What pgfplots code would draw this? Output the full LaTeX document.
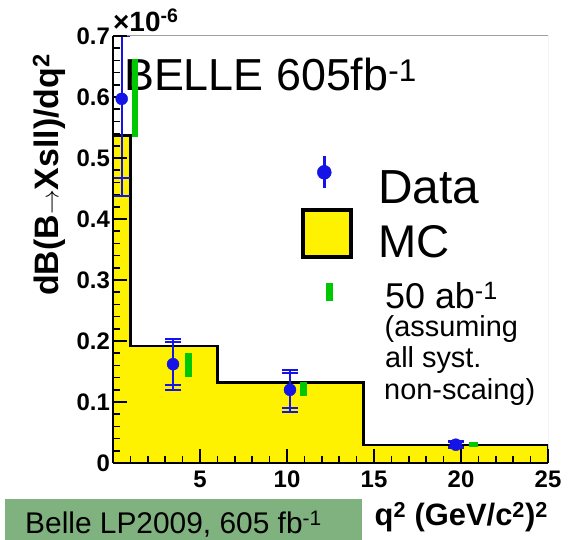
\documentclass[border=0pt]{standalone}
\usepackage{fontspec}
\setmainfont{Liberation Sans}
\usepackage{pgfplots}
\pgfplotsset{compat=1.18}
\definecolor{dblue}{RGB}{20,20,230}
\definecolor{dgreen}{RGB}{0,200,0}
\definecolor{boxgreen}{RGB}{128,178,128}
\definecolor{framegray}{RGB}{160,160,160}
\begin{document}
\begin{tikzpicture}[x=1bp,y=1bp]
\useasboundingbox (0,0) rectangle (571,540);
\begin{axis}[
  scale only axis, width=435bp, height=427bp,
  at={(113bp,77bp)}, anchor=south west,
  xmin=0, xmax=25, ymin=0, ymax=0.7,
  axis x line*=bottom, axis y line*=left,
  axis line style={-, line width=2.5bp, black},
  xtick={0,5,10,15,20,25}, xticklabels={,5,10,15,20,25},
  ytick={0,0.1,0.2,0.3,0.4,0.5,0.6,0.7},
  minor x tick num=4, minor y tick num=4,
  tick align=inside,
  major tick length=14bp, minor tick length=7bp,
  every tick/.style={line width=1.5bp, black},
  /pgf/number format/assume math mode=true,
  yticklabel style={/pgf/number format/fixed, /pgf/number format/precision=1,
     font=\bfseries\fontsize{24}{24}\selectfont, inner sep=0pt, xshift=-3bp},
  xticklabel style={font=\bfseries\fontsize{24}{24}\selectfont, inner sep=0pt, yshift=-8bp},
  axis on top,
  legend style={at={(axis description cs:0.42989,0.75222)}, anchor=north west,
     draw=none, fill=none, inner sep=0pt, outer sep=0pt, row sep=0pt, column sep=0pt,
     nodes={inner sep=0pt, outer sep=0pt}},
]
\node[anchor=base west, inner sep=0pt] at (axis cs:0.63,0.6102) {\fontsize{45}{45}\selectfont BELLE 605fb\textsuperscript{-1}};
% MC histogram
\addplot[forget plot, const plot mark left, fill=yellow, draw=black, line width=2.2bp]
  coordinates {(0,0.537) (1,0.192) (6,0.132) (14.4,0.030) (25,0.030) (25,0.030)} \closedcycle;
% 50 ab^-1 projection
\addplot[forget plot, draw=none, mark=none,
  error bars/.cd, y dir=both, y explicit, error mark=none,
  error bar style={line width=6.5bp, draw=dgreen}]
  coordinates {(1.26,0.599) +- (0,0.064) (4.33,0.1605) +- (0,0.0195) (10.94,0.1215) +- (0,0.0115)};
\addplot[forget plot, draw=none, mark=none,
  error bars/.cd, y dir=both, y explicit, error mark=none,
  error bar style={line width=9bp, draw=dgreen}]
  coordinates {(20.73,0.031) +- (0,0.004)};
% Data total errors
\addplot[forget plot, draw=none, mark=none,
  error bars/.cd, y dir=both, y explicit, error mark=-,
  error bar style={line width=2bp, draw=dblue},
  error mark options={rotate=90, draw=dblue, mark size=8bp, line width=2bp}]
  coordinates {(0.5,0.597) += (0,0.103) -= (0,0.160)
               (3.45,0.162) += (0,0.041) -= (0,0.042)
               (10.17,0.120) += (0,0.032) -= (0,0.036)
               (19.7,0.030) += (0,0.006) -= (0,0.006)};
% Data stat errors with points
\addplot[forget plot, only marks, mark=*, mark size=6bp, mark options={fill=dblue, draw=dblue},
  error bars/.cd, y dir=both, y explicit, error mark=-,
  error bar style={line width=2bp, draw=dblue},
  error mark options={rotate=90, draw=dblue, mark size=8bp, line width=2bp}]
  coordinates {(0.5,0.597) += (0,0.103) -= (0,0.130)
               (3.45,0.162) += (0,0.036) -= (0,0.034)
               (10.17,0.120) += (0,0.028) -= (0,0.030)
               (19.7,0.030) += (0,0.004) -= (0,0.004)};
% frame
\draw[framegray, line width=1bp] (rel axis cs:0,1) -- (rel axis cs:1,1) -- (rel axis cs:1,0);
% legend
\addlegendimage{legend image code/.code={
  \path[draw=none, fill=none] (0bp,-30.5bp) rectangle (56bp,30.5bp);
  \draw[line width=3bp, draw=dblue] (24.3bp,-16bp) -- (24.3bp,16bp);
  \fill[dblue] (24.3bp,0bp) circle (7bp);}}
\addlegendentry{}
\addlegendimage{legend image code/.code={
  \path[draw=none, fill=none] (0bp,-31bp) rectangle (56bp,31bp);
  \draw[line width=4bp, fill=yellow, draw=black] (2.7bp,-23.5bp) rectangle (51.3bp,23.5bp);}}
\addlegendentry{}
\addlegendimage{legend image code/.code={
  \path[draw=none, fill=none] (0bp,-27bp) rectangle (56bp,27bp);
  \fill[dgreen] (25.7bp,-8.4bp) rectangle (32.3bp,8.4bp);}}
\addlegendentry{}
\end{axis}
% multiplier
\node[anchor=base west, inner sep=0pt] at (113,508.3) {\bfseries\fontsize{28}{28}\selectfont ×10\textsuperscript{-6}};
% legend texts
\node[anchor=base west, inner sep=0pt] at (378,336.7) {\fontsize{48}{48}\selectfont Data};
\node[anchor=base west, inner sep=0pt] at (378,282) {\fontsize{46}{46}\selectfont MC};
\node[anchor=base west, inner sep=0pt] at (385,231.7) {\fontsize{36}{36}\selectfont 50 ab\textsuperscript{-1}};
\node[anchor=base west, inner sep=0pt] at (384.5,203.3) {\fontsize{29}{29}\selectfont (assuming};
\node[anchor=base west, inner sep=0pt] at (385,172.3) {\fontsize{29}{29}\selectfont all syst.};
\node[anchor=base west, inner sep=0pt] at (384,140) {\fontsize{29}{29}\selectfont non-scaing)};
% axis labels
\node[anchor=base east, inner sep=0pt] at (548,14) {\bfseries\fontsize{31}{31}\selectfont q\textsuperscript{2} (GeV/c\textsuperscript{2})\textsuperscript{2}};
\node[rotate=90, anchor=base, inner sep=0pt] at (58.3,365) {\bfseries\fontsize{34}{34}\selectfont dB(B$\rightarrow$Xsll)/dq\textsuperscript{2}};
% bottom box
\fill[boxgreen] (5,0) rectangle (362,41);
\node[anchor=base west, inner sep=0pt] at (25,6) {\fontsize{30}{30}\selectfont Belle LP2009, 605 fb\textsuperscript{-1}};
\end{tikzpicture}
\end{document}
